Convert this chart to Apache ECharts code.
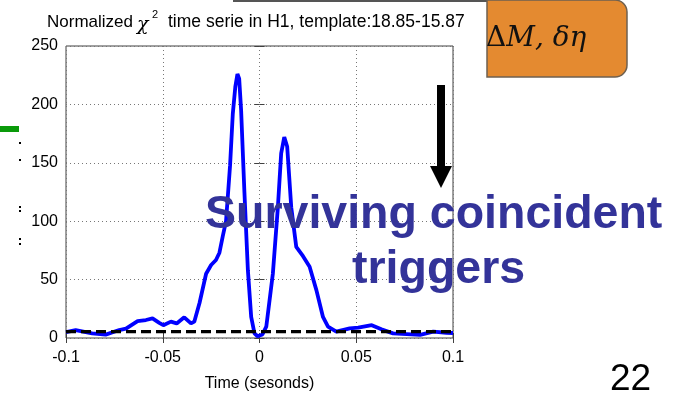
<!DOCTYPE html>
<html>
<head>
<meta charset="utf-8">
<script src="https://cdn.jsdelivr.net/npm/echarts@6/dist/echarts.min.js"></script>
<style>
html,body{margin:0;padding:0;background:#fff;}
#c{width:690px;height:402px;}
</style>
</head>
<body>
<div id="c"></div>
<script>
// ---- data ----
var times = [-0.1,-0.095,-0.0865,-0.0795,-0.0725,-0.069,-0.063,-0.0587,-0.0553,-0.0518,-0.0497,-0.0458,-0.0428,-0.0389,-0.0354,-0.0337,-0.031,-0.0276,-0.025,-0.0225,-0.0207,-0.019,-0.0173,-0.0152,-0.0138,-0.0125,-0.0114,-0.0105,-0.0095,-0.0078,-0.006,-0.0043,-0.0026,-0.001,0.0015,0.0035,0.0069,0.0095,0.0112,0.0128,0.0143,0.0164,0.019,0.0225,0.0259,0.0294,0.0328,0.0354,0.0397,0.0466,0.051,0.058,0.063,0.069,0.076,0.083,0.0898,0.0967,0.1];
var chiValues = [5.0,6.8,4.0,2.9,6.8,8.0,14.5,15.4,16.8,13.0,11.0,14.0,12.5,17.7,12.5,14.0,30,55,62.5,66.8,73,87,100,148,192,215,226,222,195,125,58,18,4,1.5,3,9.7,55,112,158,172,164,112,78,70,61,41,18,9.7,5.4,8.3,8.8,11,7.4,4,3.4,2.6,5.4,4.5,4.3];
var thresholdValue = 5.5;
var xTickLabels = ['-0.1','-0.05','0','0.05','0.1'];
var yTickLabels = ['0','50','100','150','200','250'];
var titleMain = 'Normalized';
var titleChi = 'χ';
var titleSup = '2';
var titleRest = 'time serie in H1, template:18.85-15.87';
var xAxisName = 'Time (sesonds)';
var overlayLine1 = 'Surviving coincident';
var overlayLine2 = 'triggers';
var boxLabelA = 'Δ';
var boxLabelB = 'M, δη';
var pageNumber = '22';

var xMin = -0.1, xMax = 0.1, xStep = 0.05;
var yMin = 0, yMax = 250, yStep = 50;

var chiData = times.map(function(t, i){ return [t, chiValues[i]]; });
var thrData = [[xMin, thresholdValue], [xMax, thresholdValue]];

var FONT = "'Liberation Sans', Arial, Helvetica, sans-serif";

var chart = echarts.init(document.getElementById('c'), null, {renderer:'canvas'});
var axisCommon = {
  type:'value', axisLine:{show:false},
  axisTick:{show:true, inside:true, length:5, lineStyle:{color:'#404040', width:1}}
};
chart.setOption({
  animation:false,
  backgroundColor:'#ffffff',
  grid:{left:66, top:46, width:387, height:292, show:true, borderColor:'#404040', borderWidth:1, backgroundColor:'transparent'},
  xAxis:[
    Object.assign({}, axisCommon, {
      min:xMin, max:xMax, interval:xStep, position:'bottom',
      axisLabel:{fontFamily:FONT, fontSize:16, color:'#000', margin:12,
        formatter:function(v){ return xTickLabels[Math.round((v - xMin)/xStep)]; }},
      splitLine:{show:true, lineStyle:{type:[1,3], color:'#777', width:1}},
      name:xAxisName, nameLocation:'middle', nameGap:38,
      nameTextStyle:{fontFamily:FONT, fontSize:16, color:'#000'}
    }),
    Object.assign({}, axisCommon, {
      min:xMin, max:xMax, interval:xStep, position:'top',
      axisLabel:{show:false}, splitLine:{show:false}
    })
  ],
  yAxis:[
    Object.assign({}, axisCommon, {
      min:yMin, max:yMax, interval:yStep, position:'left',
      axisLabel:{fontFamily:FONT, fontSize:16, color:'#000', margin:8,
        formatter:function(v){ return yTickLabels[Math.round((v - yMin)/yStep)]; }},
      splitLine:{show:true, lineStyle:{type:[1,3], color:'#777', width:1}}
    }),
    Object.assign({}, axisCommon, {
      min:yMin, max:yMax, interval:yStep, position:'right',
      axisLabel:{show:false}, splitLine:{show:false}
    })
  ],
  series:[
    {type:'line', data:chiData, xAxisIndex:0, yAxisIndex:0, showSymbol:false, smooth:false,
      lineStyle:{color:'#0000ff', width:3.8}, z:3},
    {type:'line', data:thrData, xAxisIndex:0, yAxisIndex:0, showSymbol:false,
      lineStyle:{color:'#000', width:3.4, type:[10,5]}, z:4}
  ],
  graphic:[
    {type:'rect', shape:{x:233, y:0, width:257, height:2}, style:{fill:'#555'}, z:10},
    {type:'polygon', shape:{points:[[536,0],[549,0],[541,6]]}, style:{fill:'#333'}, z:10},
    {type:'rect', shape:{x:487, y:0, width:140, height:77, r:[0,12,12,0]},
      style:{fill:'#e48a30', stroke:'#6e6050', lineWidth:1.5}, z:10},
    {type:'text', x:486, y:39, z:11,
      style:{text:'{a|'+boxLabelA+'}{b|'+boxLabelB+'}', verticalAlign:'middle', align:'left',
        rich:{a:{fontFamily:"'DejaVu Serif', serif", fontSize:28, fill:'#111'},
              b:{fontFamily:"'DejaVu Serif', serif", fontStyle:'italic', fontSize:28, fill:'#111'}}}},
    {type:'rect', shape:{x:0, y:126, width:19, height:6}, style:{fill:'#0a9a0a'}, z:10},
    {type:'rect', shape:{x:19, y:142, width:2, height:2}, style:{fill:'#000'}, z:10},
    {type:'rect', shape:{x:19, y:159, width:2, height:2}, style:{fill:'#000'}, z:10},
    {type:'rect', shape:{x:19, y:206, width:2, height:2}, style:{fill:'#000'}, z:10},
    {type:'rect', shape:{x:19, y:210, width:2, height:2}, style:{fill:'#000'}, z:10},
    {type:'rect', shape:{x:19, y:238, width:2, height:2}, style:{fill:'#000'}, z:10},
    {type:'rect', shape:{x:19, y:243, width:2, height:2}, style:{fill:'#000'}, z:10},
    {type:'rect', shape:{x:437, y:85, width:8, height:82}, style:{fill:'#000'}, z:10},
    {type:'polygon', shape:{points:[[430,166],[452,166],[441,188]]}, style:{fill:'#000'}, z:10},
    {type:'text', x:47, y:22.5, z:10, style:{text:titleMain, fontFamily:FONT, fontSize:17, fill:'#000', verticalAlign:'middle'}},
    {type:'text', x:137, y:25, z:10, style:{text:titleChi, fontFamily:"'DejaVu Serif', serif", fontStyle:'italic', fontSize:19, fill:'#000', verticalAlign:'middle'}},
    {type:'text', x:152, y:15, z:10, style:{text:titleSup, fontFamily:FONT, fontSize:11, fill:'#000', verticalAlign:'middle'}},
    {type:'text', x:168, y:22.5, z:10, style:{text:titleRest, fontFamily:FONT, fontSize:17.5, fill:'#000', verticalAlign:'middle'}},
    {type:'text', x:205, y:215, z:12, style:{text:overlayLine1, fontFamily:FONT, fontWeight:'bold', fontSize:46.5, fill:'#333399', verticalAlign:'middle'}},
    {type:'text', x:352, y:270, z:12, style:{text:overlayLine2, fontFamily:FONT, fontWeight:'bold', fontSize:46.5, fill:'#333399', verticalAlign:'middle'}},
    {type:'text', x:610, y:380, z:10, style:{text:pageNumber, fontFamily:FONT, fontSize:37, fill:'#000', verticalAlign:'middle'}}
  ]
});
</script>
</body>
</html>
